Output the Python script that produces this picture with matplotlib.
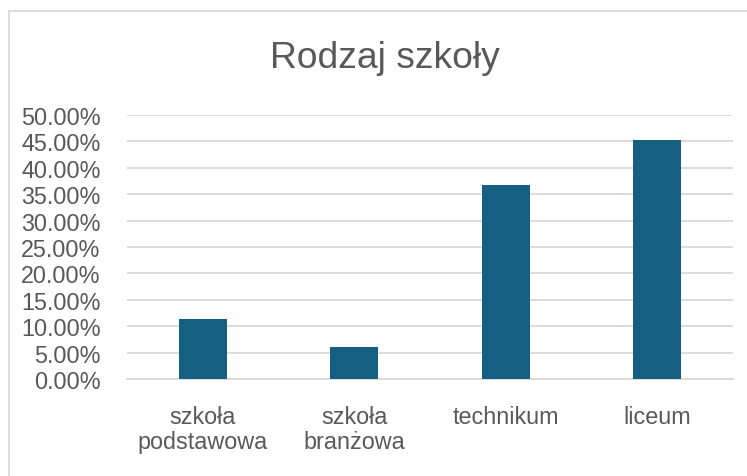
import matplotlib
matplotlib.use("Agg")
import matplotlib.pyplot as plt
from matplotlib.ticker import FuncFormatter
from matplotlib.lines import Line2D

categories = ["szkoła\npodstawowa", "szkoła\nbranżowa", "technikum", "liceum"]
values = [11.3, 6.0, 36.7, 45.2]
yticks = [0, 5, 10, 15, 20, 25, 30, 35, 40, 45, 50]

plt.rcParams['font.family'] = ['Liberation Sans', 'DejaVu Sans']

fig = plt.figure(figsize=(7.47, 4.77), dpi=100)
ax = fig.add_axes([127/747, 1-380/477, (733-127)/747, (380-116)/477])

x = list(range(len(categories)))
ax.bar(x, values, width=0.32, color="#156082", zorder=3)
ax.set_xlim(-0.5, len(categories) - 0.5)
ax.set_ylim(0, 50)
ax.set_yticks(yticks)
ax.yaxis.set_major_formatter(FuncFormatter(lambda v, p: f"{v:.2f}%"))
ax.set_xticks(x)
ax.set_xticklabels(categories, linespacing=1.1)
ax.grid(axis='y', color='#d9d9d9', linewidth=1.3, zorder=0)
for s in ['top', 'right', 'left']:
    ax.spines[s].set_visible(False)
ax.spines['bottom'].set_color('#d9d9d9')
ax.spines['bottom'].set_linewidth(1.3)
ax.tick_params(axis='both', length=0, colors='#595959', labelsize=16.8)
ax.tick_params(axis='x', pad=19)
ax.tick_params(axis='y', pad=19)

fig.text(385/747, 1-58/477, "Rodzaj szkoły", ha='center', va='center',
         fontsize=26.8, color='#595959')

fig.add_artist(Line2D([9/747, 1], [1-12/477, 1-12/477], color='#d9d9d9', linewidth=1.3))
fig.add_artist(Line2D([9/747, 9/747], [0, 1-12/477], color='#d9d9d9', linewidth=1.3))

fig.savefig("out.png", dpi=100)
